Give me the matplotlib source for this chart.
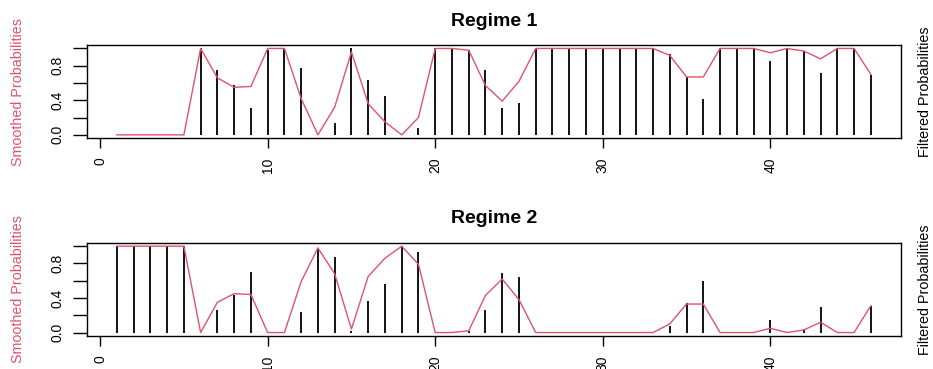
import numpy as np
import matplotlib
matplotlib.use("Agg")
import matplotlib.pyplot as plt

plt.rcParams['font.family'] = ['Liberation Sans', 'DejaVu Sans']

t = list(range(1, 47))

smoothed_r1 = [0, 0, 0, 0, 0, 1.0, 0.66, 0.55, 0.56, 1.0,
               1.0, 0.42, 0.0, 0.32, 0.96, 0.36, 0.15, 0.0, 0.2, 1.0,
               1.0, 0.98, 0.57, 0.39, 0.62, 1.0, 1.0, 1.0, 1.0, 1.0,
               1.0, 1.0, 1.0, 0.92, 0.67, 0.67, 1.0, 1.0, 1.0, 0.95,
               1.0, 0.97, 0.88, 1.0, 1.0, 0.70]
filtered_r1 = [0, 0, 0, 0, 0, 1.0, 0.75, 0.58, 0.31, 0.98,
               1.0, 0.77, 0.0, 0.14, 1.0, 0.64, 0.45, 0.0, 0.08, 1.0,
               1.0, 0.98, 0.75, 0.31, 0.37, 1.0, 1.0, 1.0, 1.0, 1.0,
               1.0, 1.0, 1.0, 0.94, 0.67, 0.41, 1.0, 1.0, 1.0, 0.86,
               1.0, 0.97, 0.72, 1.0, 1.0, 0.69]
smoothed_r2 = [1.0, 1.0, 1.0, 1.0, 1.0, 0.0, 0.35, 0.45, 0.44, 0.0,
               0.0, 0.59, 0.98, 0.68, 0.04, 0.65, 0.86, 1.0, 0.79, 0.0,
               0.0, 0.02, 0.43, 0.62, 0.38, 0.0, 0.0, 0.0, 0.0, 0.0,
               0.0, 0.0, 0.0, 0.1, 0.33, 0.33, 0.0, 0.0, 0.0, 0.05,
               0.0, 0.03, 0.12, 0.0, 0.0, 0.31]
filtered_r2 = [1.0, 1.0, 1.0, 1.0, 1.0, 0.0, 0.26, 0.43, 0.70, 0.0,
               0.0, 0.24, 0.98, 0.87, 0.02, 0.37, 0.56, 1.0, 0.93, 0.0,
               0.0, 0.02, 0.26, 0.69, 0.64, 0.0, 0.0, 0.0, 0.0, 0.0,
               0.0, 0.0, 0.0, 0.07, 0.34, 0.60, 0.0, 0.0, 0.0, 0.14,
               0.0, 0.04, 0.29, 0.0, 0.0, 0.31]

titles = ["Regime 1", "Regime 2"]
left_label = "Smoothed Probabilities"
right_label = "Filtered Probabilities"
xticks = [0, 10, 20, 30, 40]
yticks = [0, 0.2, 0.4, 0.6, 0.8, 1.0]
ytick_labels = ["0.0", "", "0.4", "", "0.8", ""]

RED = "#DF536B"
W, H = 933, 369
fig = plt.figure(figsize=(W / 100, H / 100), dpi=100)

boxes = [(86.7, 45, 901, 138.3), (86.7, 242.7, 901, 336)]
data = [(smoothed_r1, filtered_r1), (smoothed_r2, filtered_r2)]

for (l, tp, r, b), (sm, fl), title in zip(boxes, data, titles):
    ax = fig.add_axes([l / W, 1 - b / H, (r - l) / W, (b - tp) / H])
    ax.vlines(t, 0, fl, colors='black', lw=1.3)
    ax.plot(t, sm, color=RED, lw=1.0)
    ax.set_xlim(-0.8, 47.8)
    ax.set_ylim(-0.04, 1.04)
    ax.set_xticks(xticks)
    ax.set_xticklabels([str(v) for v in xticks], rotation=90, fontsize=10, va='top')
    ax.set_yticks(yticks)
    ax.set_yticklabels(ytick_labels, rotation=90, fontsize=10, va='center')
    ax.tick_params(axis='x', length=7, width=1, pad=7)
    ax.tick_params(axis='y', length=10, width=1, pad=6)
    for s in ax.spines.values():
        s.set_linewidth(1.0)
    ax.set_title(title, fontsize=14, fontweight='bold', pad=14)
    cy = 1 - (tp + b) / 2 / H
    fig.text(18.5 / W, cy, left_label, rotation=90, color=RED, fontsize=10.3,
             ha='center', va='center')
    fig.text(925 / W, cy, right_label, rotation=90, color='black', fontsize=10.3,
             ha='center', va='center')

fig.savefig("out.png", dpi=100)
